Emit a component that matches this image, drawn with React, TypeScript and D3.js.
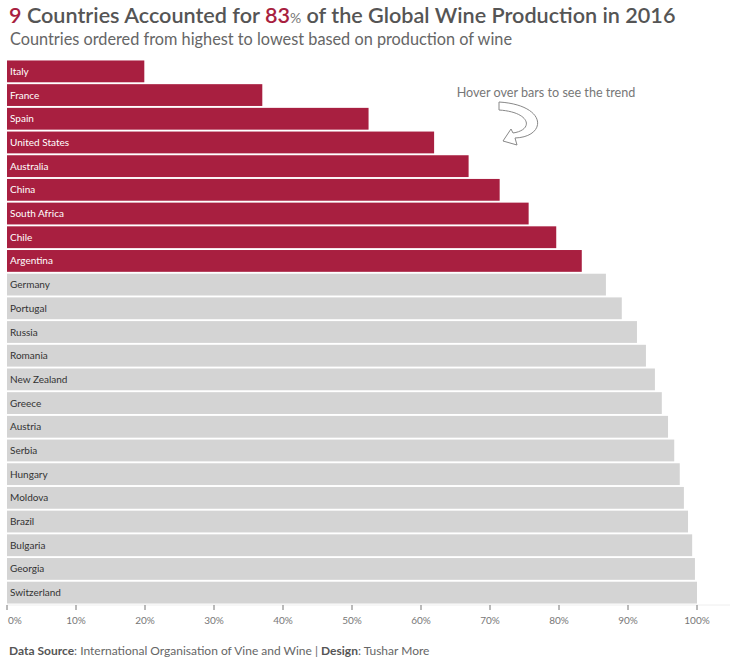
import * as d3 from "d3";
import React from "react";

// cumulative share of global wine production, 2016 (%)
const countries = [
  "Italy", "France", "Spain", "United States", "Australia", "China", "South Africa", "Chile", "Argentina",
  "Germany", "Portugal", "Russia", "Romania", "New Zealand", "Greece", "Austria", "Serbia", "Hungary",
  "Moldova", "Brazil", "Bulgaria", "Georgia", "Switzerland",
];
const cumulativeShare = [
  19.9, 37.0, 52.4, 61.9, 66.9, 71.4, 75.6, 79.6, 83.3,
  86.8, 89.1, 91.3, 92.6, 93.9, 94.9, 95.8, 96.7, 97.5,
  98.1, 98.7, 99.3, 99.7, 100,
];
const highlighted = 9;
const xTicks = [0, 10, 20, 30, 40, 50, 60, 70, 80, 90, 100];

const width = 736;
const height = 664;
const red = "#a81f40";
const grey = "#d4d4d4";
const font = "Lato, 'Open Sans', sans-serif";

const App: React.FC = () => {
  const x = d3.scaleLinear().domain([0, 100]).range([7, 697]);
  const y = d3.scaleBand<string>().domain(countries).range([60, 604]).paddingInner(0.08).paddingOuter(0.02);
  const axisY = 605;

  return (
    <svg width={width} height={height} style={{ position: "absolute", left: 0, top: 0, background: "#fff" }}>
      {/* title */}
      <text x={9} y={23} fontFamily={font} fontSize={21.6} fill="#555" fontWeight={600}>
        <tspan fill={red}>{highlighted}</tspan>
        <tspan> Countries Accounted for </tspan>
        <tspan fill={red}>83</tspan>
        <tspan fontSize={14} fontWeight={400} fill="#777">%</tspan>
        <tspan> of the Global Wine Production in 2016</tspan>
      </text>
      <text x={10} y={45} fontFamily={font} fontSize={16.3} fill="#666">
        Countries ordered from highest to lowest based on production of wine
      </text>

      {/* bars */}
      {countries.map((c, i) => (
        <g key={c}>
          <rect
            x={x(0)}
            y={y(c)}
            width={x(cumulativeShare[i]) - x(0)}
            height={y.bandwidth()}
            fill={i < highlighted ? red : grey}
          />
          <text
            x={x(0) + 3}
            y={(y(c) ?? 0) + y.bandwidth() / 2}
            dy="0.35em"
            fontFamily={font}
            fontSize={10}
            fill={i < highlighted ? "#fff" : "#333"}
          >
            {c}
          </text>
        </g>
      ))}

      {/* annotation */}
      <text x={546} y={97} textAnchor="middle" fontFamily={font} fontSize={12.6} fill="#777">
        Hover over bars to see the trend
      </text>
      <path
        d="M 499 102 C 548 105, 547 137, 515 138 L 517 145 L 503 141 L 511 129 L 513 133 C 534 130, 531 112, 499 110 Z"
        fill="#fff"
        stroke="#888"
        strokeWidth={1}
        strokeLinejoin="round"
      />

      {/* x axis */}
      <line x1={x(0)} x2={730} y1={axisY} y2={axisY} stroke="#eee" />
      {xTicks.map((t) => (
        <g key={t}>
          <line x1={x(t)} x2={x(t)} y1={axisY} y2={axisY + 5} stroke="#777" />
          <text
            x={t === 0 ? x(t) + 1 : x(t)}
            y={axisY + 19}
            textAnchor={t === 0 ? "start" : "middle"}
            fontFamily={font}
            fontSize={10}
            fill="#777"
          >
            {t}%
          </text>
        </g>
      ))}

      {/* footer */}
      <text x={9} y={655} fontFamily={font} fontSize={12} fill="#666">
        <tspan fontWeight={700} fill="#555">Data Source</tspan>
        <tspan>: International Organisation of Vine and Wine | </tspan>
        <tspan fontWeight={700} fill="#555">Design</tspan>
        <tspan>: Tushar More</tspan>
      </text>
    </svg>
  );
};

export default App;
